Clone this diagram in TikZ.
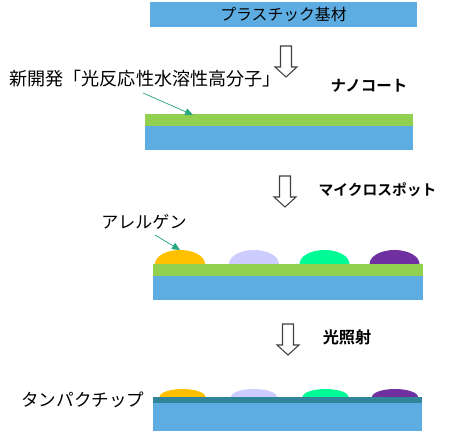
\documentclass[tikz,border=0pt]{standalone}
\usepackage{fontspec}
\newfontfamily\jpfont[BoldFont={Noto Sans CJK JP Bold}]{Noto Sans CJK JP}
\usetikzlibrary{arrows.meta}
\definecolor{base}{RGB}{93,173,226}
\definecolor{coat}{RGB}{146,208,80}
\definecolor{fixed}{RGB}{49,133,155}
\definecolor{ptr}{RGB}{40,165,130}
\definecolor{dropA}{RGB}{255,192,0}
\definecolor{dropB}{RGB}{204,204,255}
\definecolor{dropC}{RGB}{0,250,150}
\definecolor{dropD}{RGB}{112,48,160}

\begin{document}
\begin{tikzpicture}[x=0.02cm,y=-0.02cm,
    thinlbl/.style={font=\jpfont\fontsize{9.7}{11}\selectfont,inner sep=0},
    boldlbl/.style={font=\jpfont\bfseries\fontsize{8.8}{10}\selectfont,inner sep=0},
    pointer/.style={draw=ptr,line width=0.4pt,-{Triangle[length=4.5pt,width=4pt]}},
    hollow/.style={draw=black!75,line width=0.6pt,fill=white}]
  \useasboundingbox (0,0) rectangle (450,431);

  % substrate
  \fill[base] (150,2) rectangle (417,27);
  \node[boldlbl,font=\jpfont\fontsize{9}{10}\selectfont] (substrate) at (283.5,14.5) {プラスチック基材};

  % step arrows
  \foreach \x/\y in {286/77, 285/207, 288/355}
    \draw[hollow,shift={(\x,\y)}] (0,0) -- (-11,-10) -- (-5.5,-10) -- (-5.5,-31)
      -- (5.5,-31) -- (5.5,-10) -- (11,-10) -- cycle;

  % nano coat
  \fill[coat] (145,114) rectangle (413,126);
  \fill[base] (145,126) rectangle (413,150);
  \node[thinlbl,font=\jpfont\fontsize{10.3}{12}\selectfont,anchor=west] (polymer) at (9,79) {新開発「光反応性水溶性高分子」};
  \node[boldlbl] (nanocoat) at (369,86) {ナノコート};
  \coordinate (p1) at (143,93);
  \coordinate (q1) at (193,115);
  \draw[pointer] (p1) -- (q1);

  % micro spots
  \fill[coat] (153,264) rectangle (423,276);
  \fill[base] (153,276) rectangle (423,300);
  \foreach \c/\col in {180/dropA, 254/dropB, 324.5/dropC, 394.5/dropD}
    \fill[\col] (\c-25,264) arc[start angle=180,end angle=360,x radius=25,y radius=14];
  \node[boldlbl,font=\jpfont\bfseries\fontsize{8.4}{10}\selectfont] (spot) at (377.5,190) {マイクロスポット};
  \node[thinlbl,anchor=west] (allergen) at (101,222) {アレルゲン};
  \coordinate (p2) at (155,235);
  \coordinate (q2) at (180,250);
  \draw[pointer] (p2) -- (q2);

  % light
  \node[boldlbl,font=\jpfont\bfseries\fontsize{9.2}{10}\selectfont] (light) at (347,337) {光照射};
  \foreach \c/\col in {182.5/dropA, 254/dropB, 325.5/dropC, 395/dropD}
    \fill[\col] (\c-23,397) arc[start angle=180,end angle=360,x radius=23,y radius=8];
  \fill[fixed] (153,397) rectangle (422,403);
  \fill[base] (153,403) rectangle (422,431);
  \node[thinlbl,font=\jpfont\fontsize{10}{11}\selectfont,anchor=west] (chip) at (21,400) {タンパクチップ};
\end{tikzpicture}
\end{document}
